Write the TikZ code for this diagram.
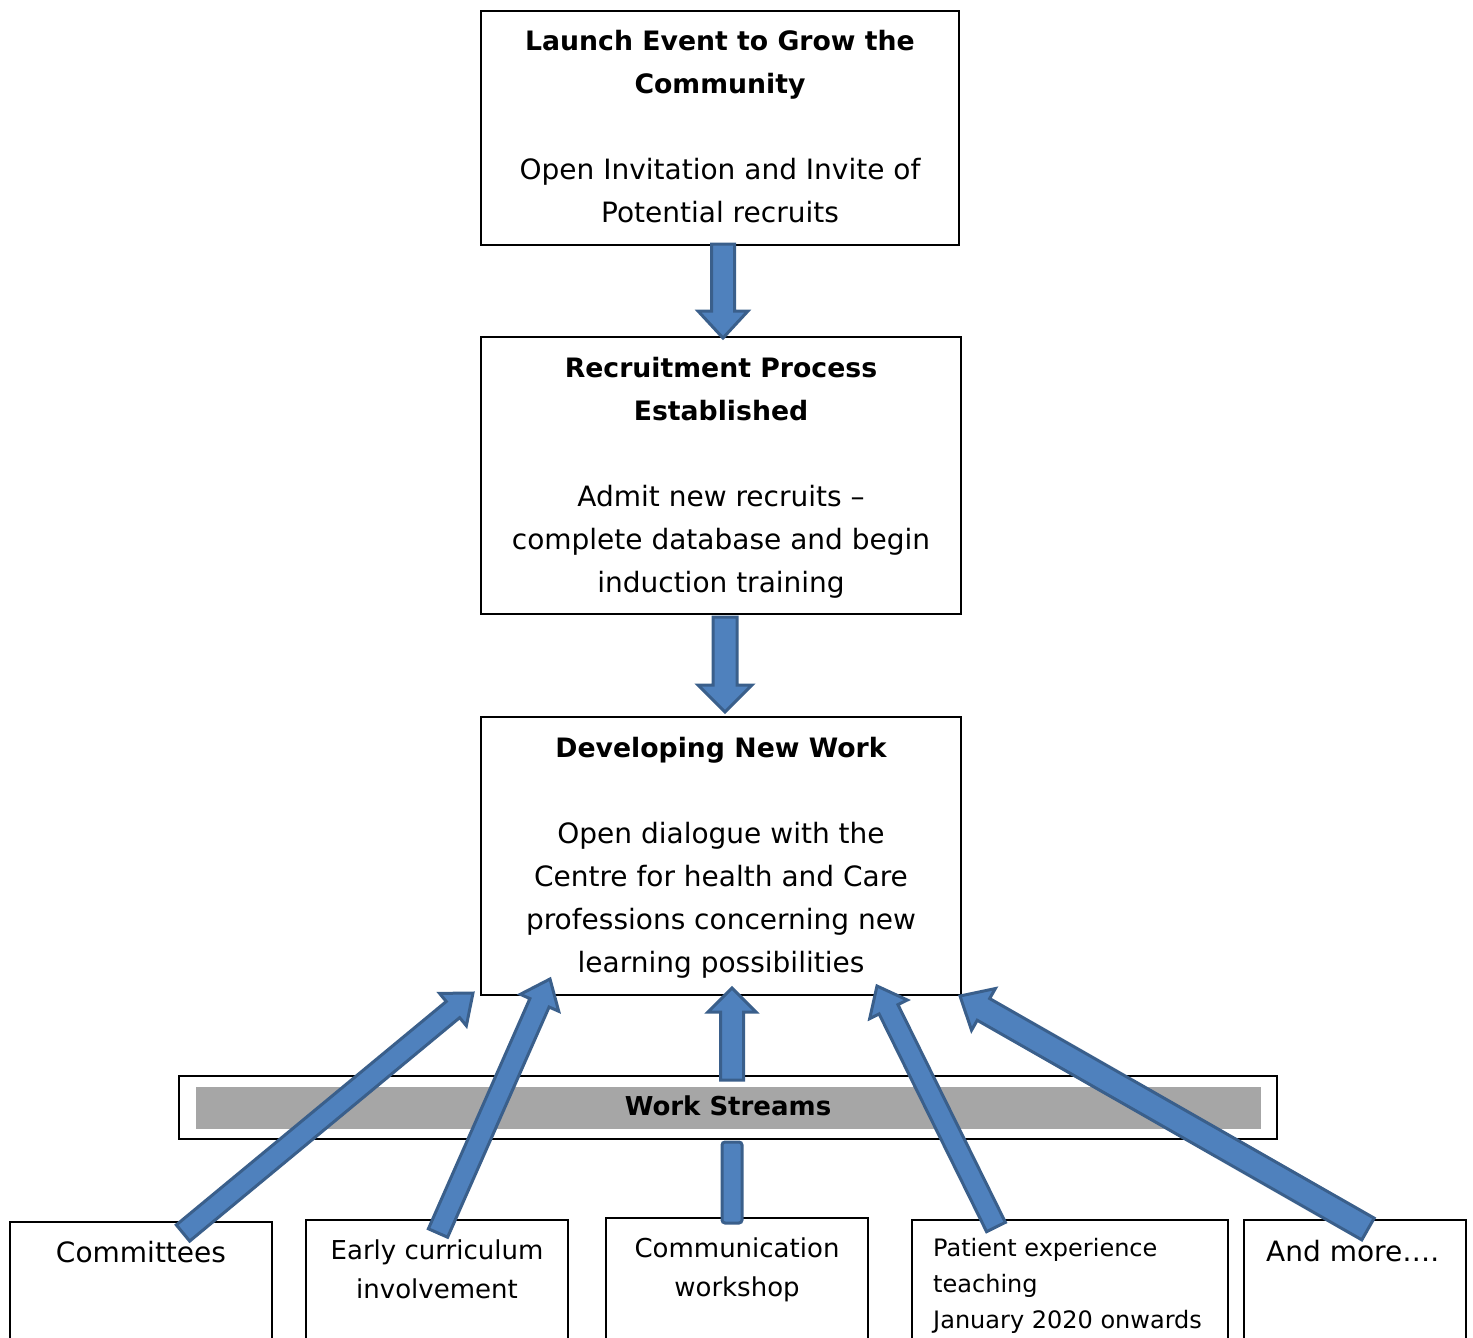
\documentclass[tikz,border=0pt]{standalone}
\usepackage{fontspec}
\setmainfont{DejaVu Sans}
\usetikzlibrary{calc}
\definecolor{arrfill}{HTML}{4F81BD}
\definecolor{arrline}{HTML}{3A5F8B}
\definecolor{wsgray}{HTML}{A6A6A6}
\newcommand\bt[1]{{\fontsize{26.7}{43}\selectfont\bfseries #1}}
\newcommand\blockarrow[5]{%
  \coordinate (bah) at ($(#2)!#5!(#1)$);
  \filldraw[arrowshape] ($(#1)!#3!90:(#2)$) -- ($(bah)!#3!90:(#2)$) -- ($(bah)!#4!90:(#2)$) -- (#2)
    -- ($(bah)!#4!-90:(#2)$) -- ($(bah)!#3!-90:(#2)$) -- ($(#1)!#3!-90:(#2)$) -- cycle;}
\tikzset{
  box/.style={draw, line width=1.8pt, inner sep=0pt, fill=white},
  maintext/.style={inner sep=0pt, align=center, font=\fontsize{28}{43}\selectfont},
  arrowshape/.style={fill=arrfill, draw=arrline, line width=3pt, line join=miter},
}
\begin{document}
\begin{tikzpicture}[x=1pt,y=-1pt]
\useasboundingbox (0,0) rectangle (1473,1338);
\clip (0,0) rectangle (1473,1338);

% main boxes
\node[box, minimum width=478pt, minimum height=234pt] (launch) at (720,128) {};
\node[box, minimum width=480pt, minimum height=277pt] (recruit) at (721,475.5) {};
\node[box, minimum width=480pt, minimum height=278pt] (develop) at (721,856) {};

\node[maintext, anchor=north] (launchtxt) at (720,19.9)
  {\strut\bt{Launch Event to Grow the}\\\strut\bt{Community}\\\strut\\\strut Open Invitation and Invite of\\\strut Potential recruits};
\node[maintext, anchor=north] (recruittxt) at (721,346.9)
  {\strut\bt{Recruitment Process}\\\strut\bt{Established}\\\strut\\\strut Admit new recruits –\\\strut complete database and begin\\\strut induction training};
\node[maintext, anchor=north] (developtxt) at (721,726.9)
  {\strut\bt{Developing New Work}\\\strut\\\strut Open dialogue with the\\\strut Centre for health and Care\\\strut professions concerning new\\\strut learning possibilities};

% work streams
\node[box, minimum width=1098pt, minimum height=63pt] (streams) at (728,1107.5) {};
\node[fill=wsgray, inner sep=0pt, minimum width=1065pt, minimum height=42pt] (streamsbar) at (728.5,1108) {};
\node[inner sep=0pt, anchor=base, font=\fontsize{26}{39}\selectfont\bfseries] (streamstxt) at (728,1115) {Work Streams};

% bottom boxes
\node[box, minimum width=262pt, minimum height=138pt] (committees) at (141,1291) {};
\node[box, minimum width=262pt, minimum height=140pt] (early) at (437,1290) {};
\node[box, minimum width=262pt, minimum height=142pt] (comm) at (737,1289) {};
\node[box, minimum width=316pt, minimum height=140pt] (patient) at (1070,1290) {};
\node[box, minimum width=222pt, minimum height=140pt] (more) at (1355,1290) {};

\node[inner sep=0pt, anchor=base, font=\fontsize{28}{43}\selectfont] (committeestxt) at (141,1262) {Committees};
\node[inner sep=0pt, anchor=north, align=center, font=\fontsize{26}{39}\selectfont] (earlytxt) at (437,1231.7)
  {\strut Early curriculum\\\strut involvement};
\node[inner sep=0pt, anchor=north, align=center, font=\fontsize{26}{39}\selectfont] (commtxt) at (737,1229.7)
  {\strut Communication\\\strut workshop};
\node[inner sep=0pt, anchor=north west, align=left, font=\fontsize{24}{36}\selectfont] (patienttxt) at (933,1230.8)
  {\strut Patient experience\\\strut teaching\\\strut January 2020 onwards};
\node[inner sep=0pt, anchor=base west, font=\fontsize{28}{43}\selectfont] (moretxt) at (1266,1261) {And more….};

% arrow end points
\coordinate (a1s) at (723,244);  \coordinate (a1e) at (723,338);
\coordinate (a2s) at (725,617);  \coordinate (a2e) at (725,712);
\coordinate (a3s) at (732,1080); \coordinate (a3e) at (732,988);
\coordinate (cs) at (183,1233);  \coordinate (ce) at (473,993);
\coordinate (es) at (438,1233);  \coordinate (ee) at (550,979);
\coordinate (ps) at (996,1227);  \coordinate (pe) at (877,986);
\coordinate (ms) at (1368,1229); \coordinate (me) at (960,996);

\blockarrow{a1s}{a1e}{11.5pt}{25pt}{27pt}
\blockarrow{a2s}{a2e}{12pt}{27pt}{27pt}
\blockarrow{a3s}{a3e}{11.5pt}{24pt}{24pt}
\draw[arrowshape, rounded corners=3pt] (722,1142) rectangle (742,1223);
\blockarrow{cs}{ce}{10.5pt}{21pt}{26pt}
\blockarrow{es}{ee}{10.5pt}{21pt}{26pt}
\blockarrow{ps}{pe}{10.5pt}{21pt}{26pt}
\blockarrow{ms}{me}{12.5pt}{24pt}{27pt}
\end{tikzpicture}
\end{document}
